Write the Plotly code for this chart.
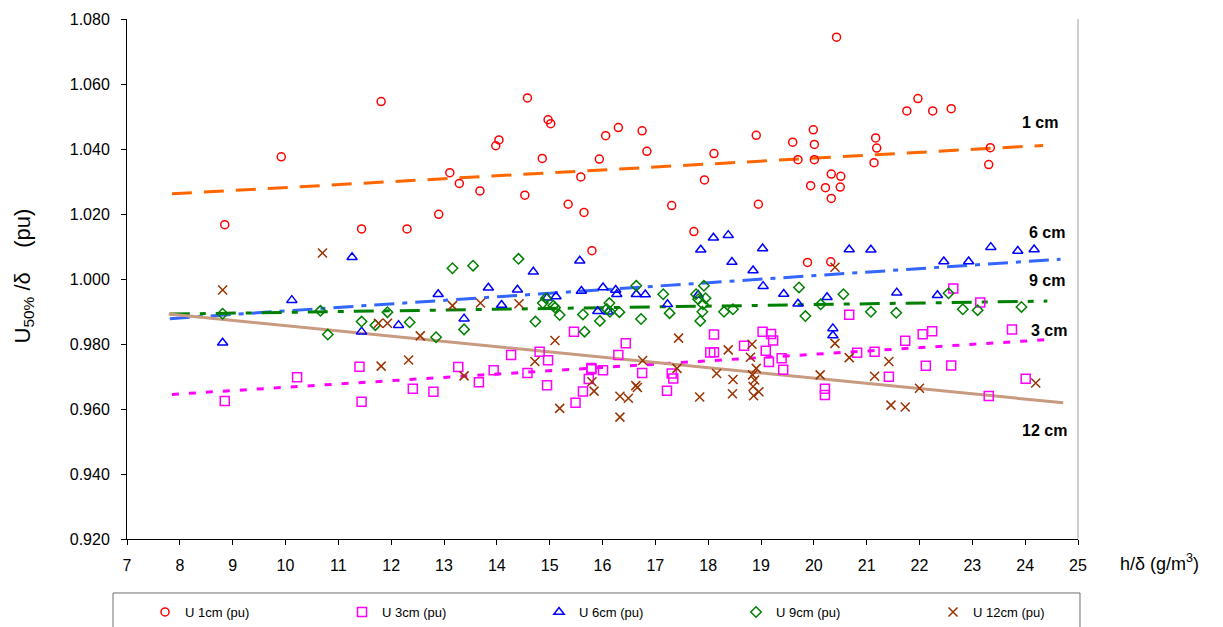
import plotly.graph_objects as go

# ---------------- data ----------------
x_1cm = [8.85, 9.92, 11.44, 11.81, 12.30, 12.90, 13.11, 13.29, 13.68, 13.98, 14.04, 14.53, 14.58, 14.86, 14.97,
         15.02, 15.35, 15.59, 15.65, 15.80, 15.94, 16.06, 16.30, 16.75, 16.84, 17.31, 17.73, 17.93, 18.11, 18.91,
         18.95, 19.60, 19.70, 19.88, 19.94, 19.99, 20.01, 20.01, 20.22, 20.32, 20.33, 20.33, 20.43, 20.50, 20.51,
         21.14, 21.17, 21.19, 21.76, 21.97, 22.25, 22.60, 23.31, 23.34]
y_1cm = [1.0167, 1.0376, 1.0154, 1.0546, 1.0154, 1.0199, 1.0327, 1.0294, 1.0271, 1.0410, 1.0428, 1.0258, 1.0557,
         1.0371, 1.0490, 1.0478, 1.0230, 1.0314, 1.0205, 1.0087, 1.0369, 1.0441, 1.0466, 1.0456, 1.0393, 1.0226,
         1.0146, 1.0305, 1.0386, 1.0442, 1.0230, 1.0421, 1.0367, 1.0051, 1.0287, 1.0459, 1.0414, 1.0367, 1.0281,
         1.0053, 1.0323, 1.0248, 1.0744, 1.0283, 1.0316, 1.0358, 1.0434, 1.0403, 1.0517, 1.0555, 1.0517, 1.0524,
         1.0352, 1.0404]

x_3cm = [8.85, 10.22, 11.40, 11.44, 12.41, 12.80, 13.27, 13.66, 13.94, 14.27, 14.58, 14.81, 14.95, 14.97, 15.46,
         15.49, 15.63, 15.74, 15.79, 15.79, 16.01, 16.30, 16.44, 16.75, 17.22, 17.31, 17.34, 18.04, 18.11, 18.11,
         18.68, 19.03, 19.19, 19.23, 19.09, 19.15, 19.39, 19.42, 20.21, 20.21, 20.67, 20.82, 21.15, 21.42, 21.73,
         22.06, 22.24, 22.12, 22.60, 22.64, 23.15, 23.31, 23.75, 24.01]
y_3cm = [0.9625, 0.9698, 0.9730, 0.9622, 0.9662, 0.9653, 0.9729, 0.9682, 0.9719, 0.9766, 0.9711, 0.9776, 0.9673,
         0.9750, 0.9838, 0.9619, 0.9654, 0.9692, 0.9726, 0.9722, 0.9719, 0.9766, 0.9802, 0.9711, 0.9656, 0.9709,
         0.9694, 0.9774, 0.9775, 0.9829, 0.9795, 0.9838, 0.9831, 0.9811, 0.9779, 0.9745, 0.9756, 0.9721, 0.9662,
         0.9643, 0.9890, 0.9773, 0.9776, 0.9699, 0.9810, 0.9830, 0.9839, 0.9733, 0.9734, 0.9971, 0.9928, 0.9640,
         0.9845, 0.9693]

x_6cm = [8.81, 10.12, 11.26, 11.44, 12.14, 12.89, 13.38, 13.84, 14.09, 14.39, 14.69, 14.95, 15.12, 15.57, 15.60,
         15.91, 16.01, 16.11, 16.25, 16.27, 16.64, 16.81, 17.23, 17.81, 17.86, 18.10, 18.38, 18.45, 18.85, 19.03,
         19.04, 19.43, 19.70, 20.25, 20.36, 20.36, 20.67, 21.08, 21.57, 22.34, 22.46, 22.93, 23.35, 23.86, 24.17]
y_6cm = [0.9804, 0.9935, 1.0067, 0.9838, 0.9858, 0.9953, 0.9878, 0.9973, 0.9920, 0.9967, 1.0022, 0.9942, 0.9946,
         1.0056, 0.9963, 0.9901, 0.9974, 0.9899, 0.9966, 0.9953, 0.9953, 0.9952, 0.9922, 0.9951, 1.0090, 1.0127,
         1.0135, 1.0052, 1.0026, 1.0094, 0.9978, 0.9954, 0.9924, 0.9944, 0.9848, 0.9826, 1.0091, 1.0090, 0.9958,
         0.9950, 1.0054, 1.0054, 1.0098, 1.0086, 1.0091]

x_9cm = [8.81, 10.66, 10.80, 11.44, 11.70, 11.93, 12.35, 12.85, 13.16, 13.38, 13.55, 14.41, 14.73, 14.87, 14.93,
         15.07, 15.10, 15.19, 15.63, 15.66, 15.95, 16.08, 16.13, 16.14, 16.32, 16.64, 16.73, 17.15, 17.27, 17.77,
         17.81, 17.85, 17.89, 17.90, 17.92, 17.95, 18.30, 18.47, 19.72, 19.84, 20.13, 20.56, 21.08, 21.56, 22.55,
         22.82, 23.10, 23.93]
y_9cm = [0.9893, 0.9902, 0.9829, 0.9869, 0.9858, 0.9898, 0.9867, 0.9821, 1.0033, 0.9845, 1.0041, 1.0062, 0.9869,
         0.9926, 0.9941, 0.9918, 0.9912, 0.9889, 0.9891, 0.9838, 0.9871, 0.9908, 0.9926, 0.9899, 0.9898, 0.9979,
         0.9877, 0.9953, 0.9895, 0.9953, 0.9938, 0.9871, 0.9899, 0.9922, 0.9979, 0.9941, 0.9899, 0.9907, 0.9974,
         0.9886, 0.9922, 0.9953, 0.9899, 0.9896, 0.9956, 0.9907, 0.9904, 0.9914]

x_12cm = [8.81, 10.70, 11.76, 11.93, 11.81, 12.33, 12.55, 13.16, 13.38, 13.69, 14.42, 14.72, 15.10, 15.19, 15.80,
          15.84, 16.33, 16.33, 16.49, 16.63, 16.66, 16.76, 17.44, 17.41, 17.84, 18.16, 18.38, 18.47, 18.46, 18.83,
          18.80, 18.91, 18.84, 18.88, 18.85, 18.96, 18.86, 20.12, 20.40, 20.40, 20.67, 21.15, 21.42, 21.46, 21.73,
          22.00, 24.20]
y_12cm = [0.9966, 1.0080, 0.9864, 0.9864, 0.9732, 0.9751, 0.9825, 0.9918, 0.9702, 0.9926, 0.9924, 0.9746, 0.9811,
          0.9602, 0.9684, 0.9655, 0.9639, 0.9575, 0.9633, 0.9672, 0.9666, 0.9749, 0.9818, 0.9725, 0.9637, 0.9709,
          0.9782, 0.9691, 0.9647, 0.9799, 0.9759, 0.9725, 0.9705, 0.9689, 0.9669, 0.9653, 0.9641, 0.9705, 1.0036,
          0.9802, 0.9758, 0.9701, 0.9746, 0.9612, 0.9606, 0.9664, 0.9680]

# linear trend lines (end points)
trend_1cm_x = [7.85, 24.34]
trend_1cm_y = [1.0262, 1.0411]
trend_3cm_x = [7.85, 24.38]
trend_3cm_y = [0.9645, 0.9813]
trend_6cm_x = [7.81, 24.67]
trend_6cm_y = [0.9878, 1.0061]
trend_9cm_x = [7.81, 24.42]
trend_9cm_y = [0.9892, 0.9932]
trend_12cm_x = [7.79, 24.72]
trend_12cm_y = [0.9892, 0.9619]

series_names = ["U 1cm (pu)", "U 3cm (pu)", "U 6cm (pu)", "U 9cm (pu)", "U 12cm (pu)"]
line_labels = ["1 cm", "6 cm", "9 cm", "3 cm", "12 cm"]
x_ticks = list(range(7, 26))
y_ticks = [0.92, 0.94, 0.96, 0.98, 1.00, 1.02, 1.04, 1.06, 1.08]

# ---------------- figure ----------------
FONT = "Liberation Sans, Arial, sans-serif"
fig = go.Figure()

trend_styles = [
    (trend_1cm_x, trend_1cm_y, "#FF6600", "20px,12px"),
    (trend_3cm_x, trend_3cm_y, "#FF00FF", "7px,10px"),
    (trend_6cm_x, trend_6cm_y, "#3366FF", "20px,8px,5px,8px"),
    (trend_9cm_x, trend_9cm_y, "#008000", "20px,10px,6px,10px"),
    (trend_12cm_x, trend_12cm_y, "#C89A80", "solid"),
]
for tx, ty, col, dash in trend_styles:
    fig.add_trace(go.Scatter(x=tx, y=ty, mode="lines", showlegend=False, hoverinfo="skip",
                             line=dict(color=col, width=3, dash=dash)))

marker_styles = [
    (x_1cm, y_1cm, "#FF0000", "circle-open", 8),
    (x_3cm, y_3cm, "#FF00FF", "square-open", 9),
    (x_6cm, y_6cm, "#0000FF", "triangle-up-open", 9),
    (x_9cm, y_9cm, "#008000", "diamond-open", 8),
    (x_12cm, y_12cm, "#993300", "x-thin-open", 9),
]
for (mx, my, col, sym, sz), name in zip(marker_styles, series_names):
    fig.add_trace(go.Scatter(x=mx, y=my, mode="markers", name=name,
                             marker=dict(symbol=sym, size=sz, color=col,
                                         line=dict(color=col, width=1.5))))

label_pos = [(24.29, 1.0483), (24.41, 1.0142), (24.41, 0.9994), (24.45, 0.9843), (24.37, 0.9535)]
for txt, (lx, ly) in zip(line_labels, label_pos):
    fig.add_annotation(x=lx, y=ly, xref="x", yref="y", text="<b>%s</b>" % txt, showarrow=False,
                       font=dict(family=FONT, size=16, color="black"), xanchor="center", yanchor="middle")

fig.add_annotation(x=-0.1083, y=0.505, xref="paper", yref="paper", textangle=-90,
                   text="U<sub>50%</sub> /δ    (pu)", showarrow=False,
                   font=dict(family=FONT, size=22, color="black"), xanchor="center", yanchor="middle")
fig.add_annotation(x=1.086, y=-0.046, xref="paper", yref="paper",
                   text="h/δ (g/m<sup>3</sup>)", showarrow=False,
                   font=dict(family=FONT, size=18, color="black"), xanchor="center", yanchor="middle")

fig.add_shape(type="line", xref="paper", yref="paper", x0=1, x1=1, y0=0, y1=1,
              line=dict(color="#A0A0A0", width=1))
fig.add_shape(type="rect", xref="paper", yref="paper", x0=-0.0147, x1=1.0021, y0=-0.1038, y1=-0.20,
              line=dict(color="#707070", width=1), fillcolor="rgba(0,0,0,0)")

# the page body has an 8px margin, so the figure is sized/offset to land the plot area at the
# reference position
fig.update_layout(
    width=1215, height=619,
    margin=dict(l=119, r=145, t=11, b=88, autoexpand=False),
    paper_bgcolor="white", plot_bgcolor="white",
    font=dict(family=FONT, size=16, color="black"),
    showlegend=True,
    legend=dict(orientation="h", xref="paper", yref="paper", x=1.0547, y=-0.1404,
                xanchor="right", yanchor="middle",
                entrywidth=152, entrywidthmode="pixels", bgcolor="rgba(0,0,0,0)",
                font=dict(family=FONT, size=13, color="black"), itemwidth=30),
    xaxis=dict(range=[7, 25], tickvals=x_ticks, ticks="outside", ticklen=5, tickcolor="black",
               showline=True, linecolor="black", linewidth=1, showgrid=False, zeroline=False,
               ticklabelstandoff=7, tickfont=dict(family=FONT, size=16)),
    yaxis=dict(range=[0.92, 1.08], tickvals=y_ticks, tickformat=".3f", ticks="outside", ticklen=5,
               tickcolor="black", showline=True, linecolor="black", linewidth=1, showgrid=False,
               zeroline=False, ticklabelstandoff=8, tickfont=dict(family=FONT, size=16)),
)

fig.write_html("out.html")
